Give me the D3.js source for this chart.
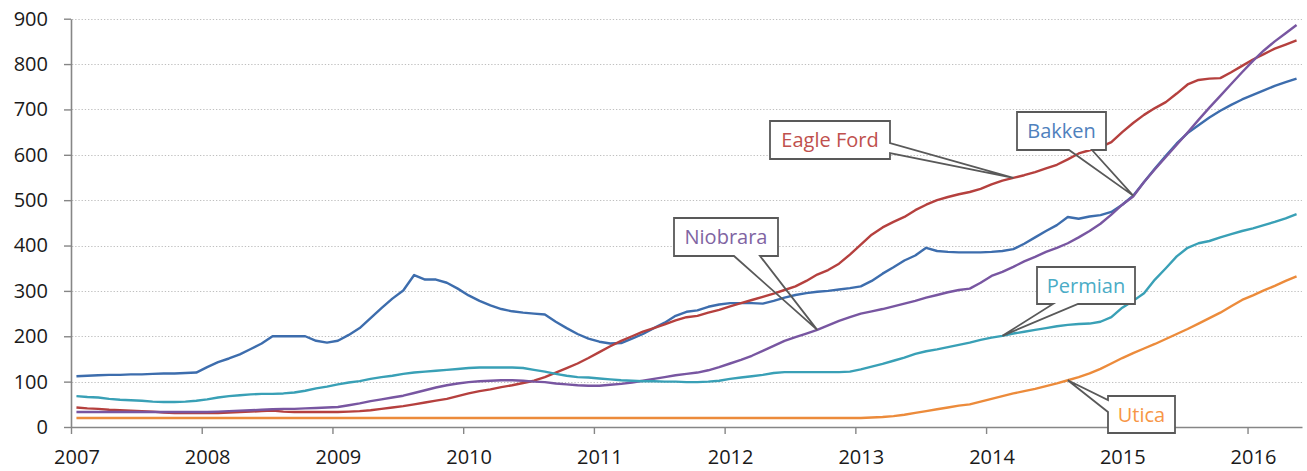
<!DOCTYPE html>
<html>
<head>
<meta charset="utf-8">
<script src="https://cdn.jsdelivr.net/npm/d3@7"></script>
<style>
    html, body { margin: 0; padding: 0; background: #fff; }
    svg { display: block; font-family: "Open Sans", sans-serif; }
</style>
</head>
<body>
<div id="visualization"></div>
<script>
// monthly values, Jan 2007 (index 0) .. May 2016 (index 112)
const yearLabels = ["2007", "2008", "2009", "2010", "2011", "2012", "2013", "2014", "2015", "2016"];
const yTicks = [0, 100, 200, 300, 400, 500, 600, 700, 800, 900];
const seriesNames = ["Bakken", "Eagle Ford", "Niobrara", "Permian", "Utica"];

const bakken = [
    112, 113, 114, 115, 115, 116, 116, 117, 118, 118, 119, 120,
    132, 143, 151, 160, 172, 184, 200, 200, 200, 200, 190, 186,
    190, 203, 218, 240, 262, 283, 301, 335, 325, 325, 318, 305,
    290, 278, 268, 260, 255, 252, 250, 248, 232, 218, 205, 195,
    188, 184, 185, 195, 205, 218, 230, 245, 254, 257, 265, 270,
    273, 273, 273, 272, 278, 285, 291, 295, 298, 300, 303, 306,
    310, 322, 338, 352, 367, 378, 395, 388, 386, 385, 385, 385,
    386, 388, 392, 404, 418, 432, 445, 463, 459, 464, 467, 474,
    490, 510, 540, 570, 598, 625, 648, 665, 682, 697, 710, 722,
    732, 742, 752, 760, 768
];
const eagleFord = [
    43, 41, 40, 38, 37, 36, 35, 34, 32, 31, 31, 31,
    31, 31, 32, 33, 34, 35, 36, 34, 33, 33, 33, 33,
    33, 34, 35, 37, 40, 43, 46, 50, 54, 58, 62, 68,
    74, 79, 83, 88, 92, 97, 102, 110, 120, 130, 140, 152,
    165, 178, 190, 200, 210, 218, 226, 235, 242, 245, 252, 258,
    266, 273, 280, 287, 294, 302, 310, 322, 336, 346, 360, 380,
    402, 424, 440, 452, 463, 478, 490, 500, 507, 513, 518, 525,
    535, 543, 549, 555, 562, 570, 578, 590, 603, 610, 617, 628,
    650, 670, 688, 703, 716, 735, 755, 765, 768, 769, 782, 796,
    810, 822, 834, 843, 852
];
const niobrara = [
    33, 33, 33, 33, 33, 33, 33, 33, 33, 33, 33, 33,
    33, 34, 35, 36, 37, 38, 39, 40, 40, 41, 42, 43,
    44, 48, 52, 57, 61, 65, 69, 75, 81, 87, 92, 96,
    99, 101, 102, 103, 103, 102, 100, 99, 96, 94, 92, 91,
    91, 93, 95, 98, 102, 106, 110, 114, 117, 120, 125, 132,
    140, 148, 157, 168, 179, 190, 198, 206, 214, 224, 234, 242,
    250, 255, 260, 266, 272, 278, 285, 291, 297, 302, 305, 318,
    333, 342, 353, 365, 375, 386, 395, 405, 418, 432, 448, 468,
    490, 508, 540, 568, 595, 622, 649, 677, 704, 730, 756, 782,
    807, 830, 850, 868, 886
];
const permian = [
    68, 66, 65, 62, 60, 59, 58, 56, 55, 55, 56, 58,
    61, 65, 68, 70, 72, 73, 73, 74, 76, 80, 85, 89,
    94, 98, 101, 106, 110, 113, 117, 120, 122, 124, 126, 128,
    130, 131, 131, 131, 131, 130, 126, 122, 117, 113, 110, 109,
    107, 105, 103, 102, 101, 101, 100, 100, 99, 99, 100, 102,
    106, 109, 112, 115, 119, 121, 121, 121, 121, 121, 121, 122,
    127, 133, 139, 146, 153, 161, 167, 171, 176, 181, 186, 192,
    197, 201, 206, 210, 214, 218, 222, 225, 227, 228, 232, 242,
    263, 278, 295, 325, 350, 376, 395, 405, 410, 418, 425, 432,
    438, 445, 452, 460, 469
];
const utica = [
    20, 20, 20, 20, 20, 20, 20, 20, 20, 20, 20, 20,
    20, 20, 20, 20, 20, 20, 20, 20, 20, 20, 20, 20,
    20, 20, 20, 20, 20, 20, 20, 20, 20, 20, 20, 20,
    20, 20, 20, 20, 20, 20, 20, 20, 20, 20, 20, 20,
    20, 20, 20, 20, 20, 20, 20, 20, 20, 20, 20, 20,
    20, 20, 20, 20, 20, 20, 20, 20, 20, 20, 20, 20,
    20, 21, 22, 24, 27, 31, 35, 39, 43, 47, 50, 56,
    62, 68, 74, 79, 84, 90, 96, 103, 110, 118, 128, 140,
    152, 163, 173, 183, 194, 205, 216, 228, 240, 252, 266, 280,
    290, 301, 311, 322, 332
];

const seriesValues = [bakken, eagleFord, niobrara, permian, utica];
const lineColors = ["#3d6dad", "#b5403e", "#7856a1", "#39a0b6", "#ec8b3b"];
const labelColors = ["#4f81bd", "#c0504d", "#8064a2", "#4bacc6", "#f79646"];

// callout layout: anchored on a month of a series, box in pixels
const callouts = [
    { series: 1, at: 86, box: [770, 121, 120, 38], side: "right", base: [143, 153] },
    { series: 0, at: 97, box: [1017, 112, 89, 38], side: "bottom", base: [1069, 1092] },
    { series: 2, at: 68, box: [674, 218, 104, 38], side: "bottom", base: [734, 760] },
    { series: 3, at: 85, box: [1037, 267, 98, 37], side: "bottom", base: [1053, 1078] },
    { series: 4, at: 91, box: [1108, 396, 67, 37], side: "left", base: [400, 412] }
];

//total dimensions
const width = 1307, height = 471;
const plot = { left: 71, right: 1302, top: 18.7, bottom: 427 };
const monthCount = bakken.length;

const svg = d3.select("#visualization")
    .append("svg")
        .attr("width", width)
        .attr("height", height);

//scales: month index, ticks sit between months
const x = d3.scaleLinear()
    .domain([-0.5, monthCount - 0.5])
    .range([plot.left, plot.right]);
const y = d3.scaleLinear()
    .domain([0, 900])
    .range([plot.bottom, plot.top]);

//dotted grid lines
svg.append("g")
    .selectAll("line")
    .data(yTicks.filter(d => d > 0))
    .join("line")
        .attr("x1", plot.left + 1)
        .attr("x2", plot.right)
        .attr("y1", d => Math.round(y(d)) + 0.5)
        .attr("y2", d => Math.round(y(d)) + 0.5)
        .attr("stroke", "#bfbfbf")
        .attr("stroke-width", 1)
        .attr("stroke-dasharray", "1.3,1.9");

//left axis
const yAxis = svg.append("g")
    .attr("transform", `translate(${plot.left}, 0)`)
    .call(d3.axisLeft(y).tickValues(yTicks).tickSize(7).tickSizeOuter(0).tickPadding(16));
yAxis.select(".domain").attr("stroke", "#868686").attr("stroke-width", 1.6);
yAxis.selectAll(".tick line").attr("stroke", "#868686").attr("stroke-width", 1.4);
yAxis.selectAll(".tick text")
    .attr("fill", "#1a1a1a")
    .attr("font-size", 20)
    .attr("font-family", "Open Sans, sans-serif");

//bottom axis: year boundaries as ticks
const yearStarts = yearLabels.map((d, k) => k * 12);
const xAxis = svg.append("g")
    .attr("transform", `translate(0, ${plot.bottom})`)
    .call(d3.axisBottom(x).tickValues(yearStarts.map(d => d - 0.5)).tickSize(7).tickSizeOuter(0).tickFormat(""));
xAxis.select(".domain").attr("stroke", "#868686").attr("stroke-width", 1.6);
xAxis.selectAll(".tick line").attr("stroke", "#868686").attr("stroke-width", 1.4);

//year labels centred on January
const xLabels = svg.append("g")
    .attr("transform", `translate(0, ${plot.bottom})`)
    .call(d3.axisBottom(x).tickValues(yearStarts).tickSize(0).tickPadding(23).tickFormat((d, k) => yearLabels[k]));
xLabels.select(".domain").remove();
xLabels.selectAll(".tick text")
    .attr("fill", "#1a1a1a")
    .attr("font-size", 20)
    .attr("font-family", "Open Sans, sans-serif");

//series lines
const line = d3.line()
    .x((d, i) => x(i))
    .y(d => y(d));

svg.append("g")
    .selectAll("path")
    .data(seriesValues)
    .join("path")
        .attr("d", line)
        .attr("fill", "none")
        .attr("stroke", (d, i) => lineColors[i])
        .attr("stroke-width", 2.4)
        .attr("stroke-linejoin", "round");

//callouts
const calloutGroup = svg.append("g");
callouts.forEach(c => {
    const [bx, by, bw, bh] = c.box;
    const tx = x(c.at), ty = y(seriesValues[c.series][c.at]);
    const r = bx + bw, b = by + bh;
    let outline;

    if(c.side === "right")
        outline = `M${bx},${by}H${r}V${c.base[0]}L${tx},${ty}L${r},${c.base[1]}V${b}H${bx}Z`;
    else if(c.side === "bottom")
        outline = `M${bx},${by}H${r}V${b}H${c.base[1]}L${tx},${ty}L${c.base[0]},${b}H${bx}Z`;
    else
        outline = `M${bx},${by}H${r}V${b}H${bx}V${c.base[1]}L${tx},${ty}L${bx},${c.base[0]}Z`;

    const g = calloutGroup.append("g");
    g.append("rect")
        .attr("x", bx).attr("y", by)
        .attr("width", bw).attr("height", bh)
        .attr("fill", "#fff");
    g.append("path")
        .attr("d", outline)
        .attr("fill", "none")
        .attr("stroke", "#595959")
        .attr("stroke-width", 1.8)
        .attr("stroke-linejoin", "miter");
    g.append("text")
        .attr("x", bx + bw / 2)
        .attr("y", by + bh / 2)
        .attr("dy", "0.36em")
        .attr("text-anchor", "middle")
        .attr("font-size", 20)
        .attr("fill", labelColors[c.series])
        .text(seriesNames[c.series]);
});
</script>
</body>
</html>
